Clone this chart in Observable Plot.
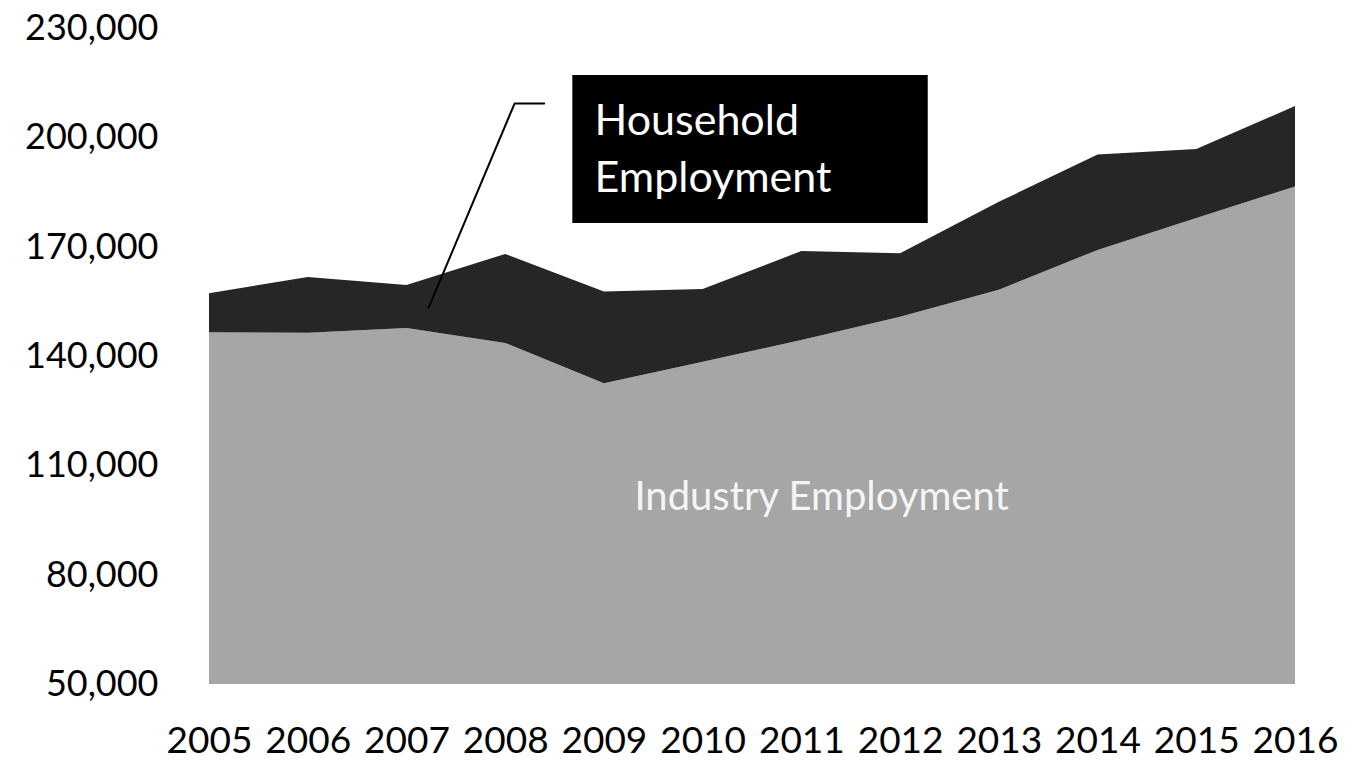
<!DOCTYPE html>
<html>
<head>
<meta charset="utf-8">
<script src="https://cdn.jsdelivr.net/npm/d3@7"></script>
<script src="https://cdn.jsdelivr.net/npm/@observablehq/plot@0.6"></script>
<style>
  html, body { margin: 0; padding: 0; background: #fff; }
  #chart svg { display: block; }
</style>
</head>
<body>
<div id="chart"></div>
<script>
const years = [2005, 2006, 2007, 2008, 2009, 2010, 2011, 2012, 2013, 2014, 2015, 2016];
const industry = [146500, 146400, 147700, 143600, 132500, 138400, 144400, 150800, 158200, 169100, 177900, 186500];
const household = [10700, 15300, 11800, 24400, 25200, 20000, 24400, 17400, 24100, 26200, 18900, 22100];
const yTicks = [50000, 80000, 110000, 140000, 170000, 200000, 230000];
const seriesNames = ["Industry Employment", "Household Employment"];

// annotation anchors in data units
const boxCorners = [{x1: 2008.68, x2: 2012.28, y1: 176500, y2: 217100}];
const leader = [
  {x: 2007.22, y: 153400},
  {x: 2008.09, y: 209400},
  {x: 2008.39, y: 209400}
];
const boxLabels = [
  {x: 2008.9, y: 204600, text: "Household"},
  {x: 2008.9, y: 189000, text: "Employment"}
];
const areaLabel = [{x: 2011.2, y: 101300, text: seriesNames[0]}];

const rows = years.map((yr, i) => ({
  year: yr,
  base: yTicks[0],
  industry: industry[i],
  total: industry[i] + household[i]
}));

const fmt = d3.format(",");

const chart = Plot.plot({
  width: 1363,
  height: 762,
  marginLeft: 209,
  marginRight: 68,
  marginTop: 28,
  marginBottom: 78,
  style: {fontFamily: "Lato", fontSize: "37px", color: "#000", background: "#fff"},
  x: {domain: [2005, 2016], ticks: years, tickFormat: d => String(d)},
  y: {domain: [50000, 230000], ticks: yTicks, tickFormat: fmt},
  marks: [
    Plot.areaY(rows, {x: "year", y1: "base", y2: "industry", fill: "#a6a6a6"}),
    Plot.areaY(rows, {x: "year", y1: "industry", y2: "total", fill: "#262626"}),
    Plot.axisX({ticks: years, tickSize: 0, tickPadding: 42, tickFormat: d => String(d), fontSize: 37}),
    Plot.axisY({ticks: yTicks, tickSize: 0, tickPadding: 51, tickFormat: fmt, fontSize: 36}),
    Plot.text(areaLabel, {x: "x", y: "y", text: "text", fill: "#f5f5f5", fontSize: 40, textAnchor: "middle"}),
    Plot.line(leader, {x: "x", y: "y", stroke: "#000", strokeWidth: 2}),
    Plot.rect(boxCorners, {x1: "x1", x2: "x2", y1: "y1", y2: "y2", fill: "#000"}),
    Plot.text(boxLabels, {x: "x", y: "y", text: "text", fill: "#fff", fontSize: 43, textAnchor: "start"})
  ]
});
document.getElementById("chart").appendChild(chart);
</script>
</body>
</html>
